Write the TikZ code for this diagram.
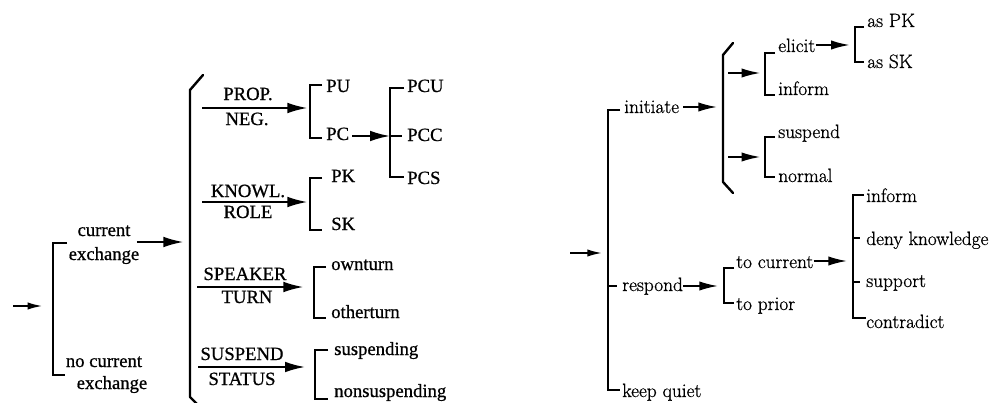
\documentclass[tikz,border=0pt]{standalone}
\usepackage{fontspec}
\newfontfamily\tms[FakeBold=0.8]{Liberation Serif}
\newfontfamily\lmr[FakeBold=0.8]{Latin Modern Roman}
\usetikzlibrary{arrows.meta}
\begin{document}
\begin{tikzpicture}[x=0.75pt,y=-0.75pt,
  lt/.style={font=\tms\fontsize{14}{18}\selectfont, inner sep=0pt, anchor=base west},
  lc/.style={font=\tms\fontsize{14}{18}\selectfont, inner sep=0pt, anchor=base},
  rt/.style={font=\lmr\fontsize{14.5}{18}\selectfont, inner sep=0pt, anchor=base west},
  brk/.style={line width=1.5pt, line join=miter},
  brace/.style={line width=1.8pt, line join=round, line cap=round},
  arrL/.style={line width=1.4pt, -{Latex[length=15pt,width=8pt]}},
  arrR/.style={line width=1.3pt, -{Latex[length=14pt,width=7pt]}},
  arrS/.style={line width=1.3pt, -{Latex[length=11pt,width=5.5pt]}}]
\useasboundingbox (0,0) rectangle (1006,403);
\clip (0,0) rectangle (1006,403);

% ---------------- left network: exchange features ----------------
\coordinate (s0) at (13,306);
\coordinate (L0) at (53,306);
\draw[brk] (67,243) -- (53,243) -- (53,375) -- (65,375);
\draw[arrS, shorten >=8pt] (s0) -- (L0);
\node[lc] (ce1) at (104,236) {current};
\node[lc] (ce2) at (104,260) {exchange};
\node[lc] (nc1) at (104,367) {no current};
\node[lc] (nc2) at (112,389) {exchange};

% simultaneous choice brace
\draw[brace] (203,75) -- (190,90) -- (190,397) -- (204,411);
\coordinate (B) at (190,242);
\draw[arrL, shorten >=5pt, shorten <=-2pt] (ce2.east |- B) -- (B);

% proposition negotiation
\coordinate (a1) at (202,108);
\coordinate (k1) at (310,108);
\draw[arrL, shorten >=2pt] (a1) -- (k1);
\node[lc] (prop) at (248,100) {PROP.};
\node[lc] (neg) at (247,125) {NEG.};
\draw[brk] (322,85) -- (310,85) -- (310,138) -- (322,138);
\node[lt] (pu) at (326,92) {PU};
\node[lt] (pc) at (326,140) {PC};
\coordinate (k5) at (390,136);
\draw[arrL, shorten <=2pt] (pc.east |- k5) -- (k5);
\draw[brk] (404,88) -- (390,88) -- (390,177) -- (404,177);
\draw[brk] (390,136) -- (402,136);
\node[lt] (pcu) at (407,92) {PCU};
\node[lt] (pcc) at (407,141) {PCC};
\node[lt] (pcs) at (407,184) {PCS};

% knowledge role
\coordinate (a2) at (202,202);
\coordinate (k2) at (310,202);
\draw[arrL, shorten >=2pt] (a2) -- (k2);
\node[lc] (knowl) at (248,197) {KNOWL.};
\node[lc] (role) at (248,218) {ROLE};
\draw[brk] (322,178) -- (310,178) -- (310,230) -- (322,230);
\node[lt] (pk) at (331,182) {PK};
\node[lt] (sk) at (331,230) {SK};

% speaker turn
\coordinate (a3) at (197,287);
\coordinate (k3) at (314,287);
\draw[arrL, shorten >=8pt] (a3) -- (k3);
\node[lc] (speaker) at (245,280) {SPEAKER};
\node[lc] (turn) at (247,303) {TURN};
\draw[brk] (326,267) -- (314,267) -- (314,318) -- (326,318);
\node[lt] (own) at (331,270) {ownturn};
\node[lt] (other) at (331,318) {otherturn};

% suspend status
\coordinate (a4) at (198,367);
\coordinate (k4) at (315,367);
\draw[arrL, shorten >=7.5pt] (a4) -- (k4);
\node[lc] (susp) at (242,360) {SUSPEND};
\node[lc] (stat) at (242,385) {STATUS};
\draw[brk] (328,350) -- (315,350) -- (315,399) -- (328,399);
\node[lt] (sing) at (334,355) {suspending};
\node[lt] (nsing) at (334,397) {nonsuspending};

% ---------------- right network: move choices ----------------
\coordinate (s1) at (570,253);
\coordinate (R0) at (608,253);
\draw[arrS, shorten >=4.5pt] (s1) -- (R0);
\draw[brk] (620,110) -- (608,110) -- (608,390) -- (620,390);
\draw[brk] (608,286) -- (617,286);
\node[rt] (ini) at (624,113) {initiate};
\node[rt] (resp) at (622,291) {respond};
\node[rt] (kq) at (622,397) {keep quiet};

% initiate: simultaneous choice
\coordinate (I0) at (723,107);
\draw[arrR, shorten <=3pt, shorten >=4.5pt] (ini.east |- I0) -- (I0);
\draw[brace] (733,43) -- (723,55) -- (723,182) -- (733,193);
\coordinate (i1) at (728,73);
\coordinate (e1) at (765,73);
\draw[arrR, shorten >=3.5pt] (i1) -- (e1);
\coordinate (i2) at (728,157);
\coordinate (e2) at (765,157);
\draw[arrR, shorten >=3.5pt] (i2) -- (e2);
\draw[brk] (775,53) -- (765,53) -- (765,95) -- (775,95);
\node[rt] (eli) at (778,52) {elicit};
\node[rt] (inf1) at (778,95) {inform};
\draw[brk] (775,137) -- (765,137) -- (765,177) -- (775,177);
\node[rt] (susr) at (778,138) {suspend};
\node[rt] (norm) at (778,182) {normal};

% elicit
\coordinate (E0) at (855,45);
\draw[arrR, shorten >=4pt] (eli.east |- E0) -- (E0);
\draw[brk] (864,27) -- (855,27) -- (855,62) -- (864,62);
\node[rt] (apk) at (867,27) {as PK};
\node[rt] (ask) at (867,68) {as SK};

% respond
\coordinate (T0) at (724,286);
\draw[arrR, shorten >=4.5pt] (resp.east |- T0) -- (T0);
\draw[brk] (734,268) -- (724,268) -- (724,303) -- (734,303);
\node[rt] (tcur) at (736,268) {to current};
\node[rt] (tpri) at (736,310) {to prior};

% to current
\coordinate (D0) at (853,261);
\draw[arrR, shorten >=4.5pt] (tcur.east |- D0) -- (D0);
\draw[brk] (864,195) -- (853,195) -- (853,318) -- (866,318);
\draw[brk] (853,238) -- (860,238);
\draw[brk] (853,282) -- (860,282);
\node[rt] (inf2) at (866,202) {inform};
\node[rt] (deny) at (866,245) {deny knowledge};
\node[rt] (supp) at (866,287) {support};
\node[rt] (contra) at (866,328) {contradict};
\end{tikzpicture}
\end{document}
